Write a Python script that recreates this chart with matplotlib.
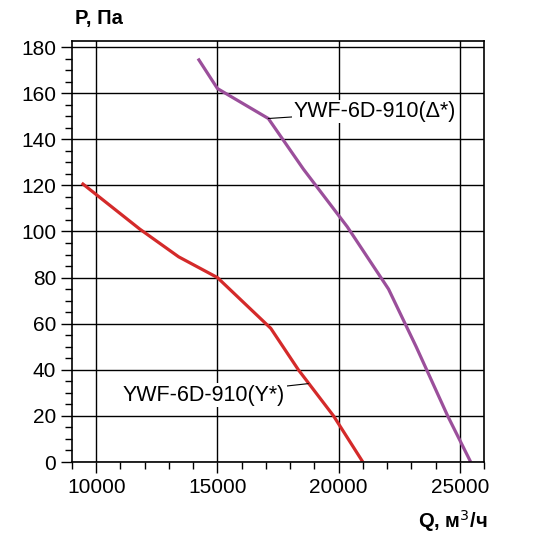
import matplotlib
matplotlib.use('Agg')
from matplotlib import pyplot as plt
from matplotlib.ticker import MultipleLocator

plt.rcParams['font.family'] = ['Liberation Sans', 'DejaVu Sans']

# Кривые вентилятора
q_delta = [14200, 15000, 17100, 18550, 20360, 22060, 23200, 24500, 25450]
p_delta = [175, 162, 149, 127, 102, 75, 50, 20, 0]
q_star = [9400, 11800, 13400, 15000, 17200, 18340, 19790, 21000]
p_star = [121, 101, 89, 80, 58, 40, 20, 0]

label_delta = 'YWF-6D-910(Δ*)'
label_star = 'YWF-6D-910(Y*)'

fig = plt.figure(figsize=(5.39, 5.33), dpi=100)
ax = fig.add_axes([0.1336, 0.1332, 0.7644, 0.7898])
ax.plot(q_delta, p_delta, c='#9b4f9b', lw=2.3, solid_capstyle='butt')
ax.plot(q_star, p_star, c='#d42a2a', lw=2.3, solid_capstyle='butt')

ax.set_xlim(9000, 26000)
ax.set_ylim(0, 182.6)
ax.xaxis.set_major_locator(MultipleLocator(5000))
ax.xaxis.set_minor_locator(MultipleLocator(1000))
ax.yaxis.set_major_locator(MultipleLocator(20))
ax.yaxis.set_minor_locator(MultipleLocator(5))
ax.grid(True, which='major', color='black', lw=1)
ax.tick_params(which='both', direction='out', color='black', width=1)
ax.tick_params(which='major', length=8, labelsize=15)
ax.tick_params(which='minor', length=5)
for s in ax.spines.values():
    s.set_linewidth(1.2)

# Подписи кривых
ax.annotate(label_delta, xy=(17100, 149), xytext=(18150, 152),
            fontsize=15.5, va='center', ha='left',
            bbox=dict(fc='white', ec='none', pad=1),
            arrowprops=dict(arrowstyle='-', color='black', lw=0.8, shrinkA=0, shrinkB=0))
ax.annotate(label_star, xy=(18750, 34), xytext=(17800, 29),
            fontsize=15.5, va='center', ha='right',
            bbox=dict(fc='white', ec='none', pad=1),
            arrowprops=dict(arrowstyle='-', color='black', lw=0.8, shrinkA=0, shrinkB=0))

fig.text(0.14, 0.965, 'P, Па', fontsize=14.5, fontweight='bold', ha='left', va='center')
fig.text(0.905, 0.022, 'Q, м$^3$/ч', fontsize=14.5, fontweight='bold', ha='right', va='center')

plt.savefig('out.png', dpi=100)
